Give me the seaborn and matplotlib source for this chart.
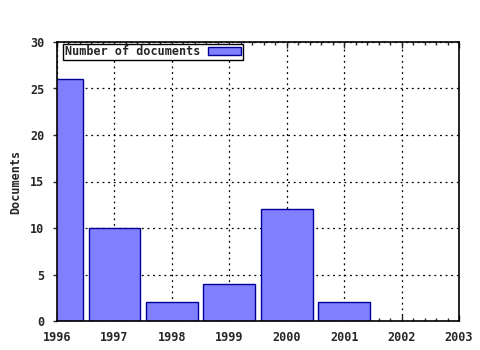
import matplotlib
matplotlib.use("Agg")
import matplotlib.pyplot as plt
import seaborn as sns
import pandas as pd
from matplotlib.ticker import MultipleLocator

years = [1996, 1997, 1998, 1999, 2000, 2001]
documents = [26, 10, 2, 4, 12, 2]
xticks = [1996, 1997, 1998, 1999, 2000, 2001, 2002, 2003]
yticks = [0, 5, 10, 15, 20, 25, 30]

df = pd.DataFrame({"Year": years, "Documents": documents})

sns.set_style("white")
plt.rcParams["font.family"] = ["DejaVu Sans Mono", "DejaVu Sans"]
plt.rcParams["font.weight"] = "bold"

FS = 8.5
fig = plt.figure(figsize=(4.8, 3.5), dpi=100)
ax = fig.add_axes([57 / 480, 29 / 350, 402 / 480, 279 / 350])

sns.barplot(data=df, x="Year", y="Documents", native_scale=True, ax=ax,
            color="#8080ff", saturation=1, edgecolor="#000099", linewidth=1.0,
            width=0.9, label="Number of documents", zorder=2)

ax.set_xlim(1996, 2003)
ax.set_ylim(0, 30)
ax.set_xticks(xticks)
ax.set_xticklabels([str(t) for t in xticks], fontsize=FS, fontweight="bold")
ax.set_yticks(yticks)
ax.set_yticklabels([str(t) for t in yticks], fontsize=FS, fontweight="bold")
ax.xaxis.set_minor_locator(MultipleLocator(0.2))
ax.tick_params(axis="x", which="both", direction="in", top=True, bottom=True, length=4, width=1, pad=7)
ax.tick_params(axis="x", which="minor", length=2)
ax.tick_params(axis="y", which="major", direction="out", left=True, right=False, length=3, width=1, pad=6)
ax.set_xlabel("")
ax.set_ylabel("Documents", fontsize=FS, fontweight="bold", labelpad=6)

ax.grid(True, which="major", color="black", linestyle=(0, (1.5, 3)), linewidth=0.9, zorder=1)
ax.set_axisbelow(True)
for s in ax.spines.values():
    s.set_color("black")
    s.set_linewidth(1.2)
    s.set_visible(True)

leg = ax.legend(loc="upper left", bbox_to_anchor=(6 / 402, 1 - 1.5 / 279), borderaxespad=0,
                markerfirst=False, frameon=True, fancybox=False,
                prop={"size": FS, "weight": "bold", "family": "DejaVu Sans Mono"},
                borderpad=0.15, handlelength=2.8, handleheight=0.65,
                handletextpad=0.7)
leg.get_frame().set_edgecolor("black")
leg.get_frame().set_linewidth(1.0)
leg.get_frame().set_alpha(1)

fig.savefig("out.png", dpi=100)
